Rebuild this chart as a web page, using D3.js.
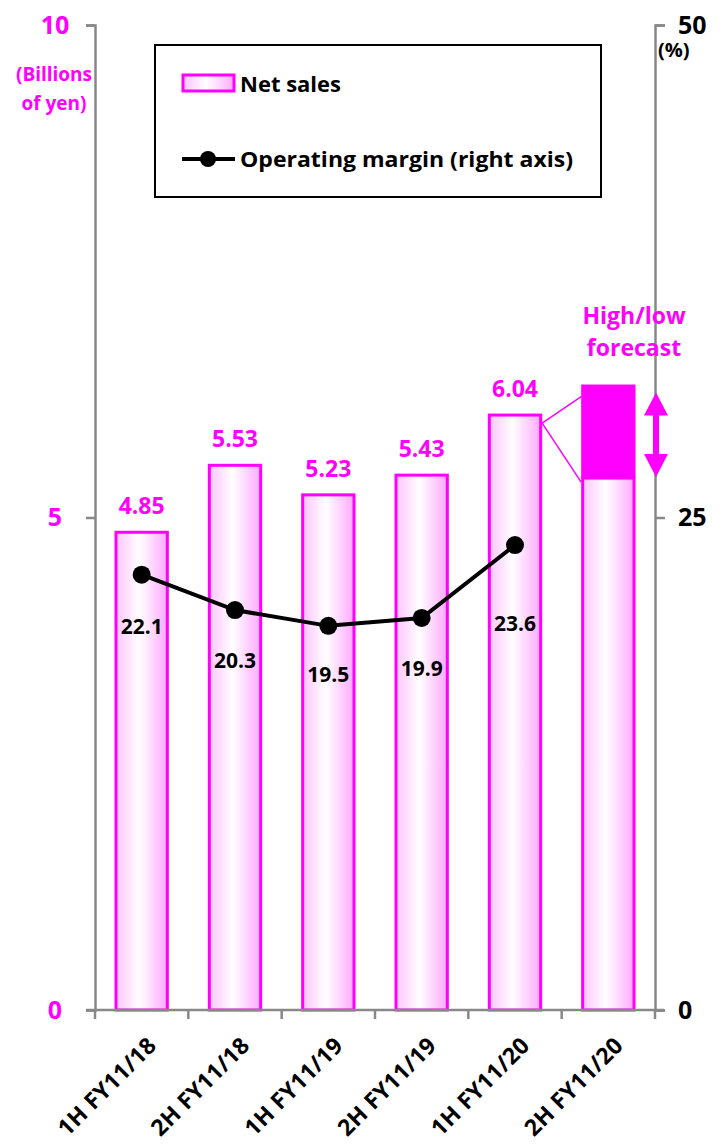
<!DOCTYPE html>
<html>
<head>
<meta charset="utf-8">
<script src="https://cdn.jsdelivr.net/npm/d3@7"></script>
<style>
  html, body { margin: 0; padding: 0; background: #fff; }
  svg { display: block; }
  svg text { font-family: "Open Sans", Lato, "DejaVu Sans", sans-serif; font-weight: 700; }
</style>
</head>
<body>
<svg id="chart" width="722" height="1147"></svg>
<script>
// Half-year periods
const categories = ["1H FY11/18", "2H FY11/18", "1H FY11/19", "2H FY11/19", "1H FY11/20", "2H FY11/20"];
// Net sales, billions of yen (last period is a forecast range)
const netSales = [4.85, 5.53, 5.23, 5.43, 6.04];
const forecastLow = 5.4;
const forecastHigh = 6.35;
// Operating margin, %
const opMargin = [22.1, 20.3, 19.5, 19.9, 23.6];
// Axis ticks
const leftTicks = [0, 5, 10];
const rightTicks = [0, 25, 50];

const MAGENTA = "#ff00ff";
const AXIS = "#888888";

const svg = d3.select("#chart");

const x = d3.scaleBand().domain(categories).range([95, 655]).paddingInner(0.45).paddingOuter(0.225);
const yL = d3.scaleLinear().domain([0, 10]).range([1010, 25]);
const yR = d3.scaleLinear().domain([0, 50]).range([1010, 25]);

// Bar fill: pink edges fading to white near the middle
const defs = svg.append("defs");
const grad = defs.append("linearGradient").attr("id", "barFill").attr("x1", "0").attr("x2", "1").attr("y1", "0").attr("y2", "0");
grad.append("stop").attr("offset", "0%").attr("stop-color", "#ffc4ff");
grad.append("stop").attr("offset", "45%").attr("stop-color", "#ffffff");
grad.append("stop").attr("offset", "100%").attr("stop-color", "#ffaaff");

// Bars
const bars = svg.append("g");
bars.selectAll("rect.sales")
  .data(netSales)
  .join("rect")
  .attr("class", "sales")
  .attr("x", (d, i) => x(categories[i]))
  .attr("y", d => yL(d))
  .attr("width", x.bandwidth())
  .attr("height", d => yL(0) - yL(d))
  .attr("fill", "url(#barFill)")
  .attr("stroke", MAGENTA)
  .attr("stroke-width", 3);

// Forecast bar: low estimate + high/low range
const fc = categories[5];
bars.append("rect")
  .attr("x", x(fc)).attr("y", yL(forecastLow))
  .attr("width", x.bandwidth()).attr("height", yL(0) - yL(forecastLow))
  .attr("fill", "url(#barFill)").attr("stroke", MAGENTA).attr("stroke-width", 3);
bars.append("rect")
  .attr("x", x(fc) - 1.5).attr("y", yL(forecastHigh))
  .attr("width", x.bandwidth() + 3).attr("height", yL(forecastLow) - yL(forecastHigh))
  .attr("fill", MAGENTA);

// Connector lines from the last actual bar to the forecast range
const lastX = x(categories[4]) + x.bandwidth() + 1.5;
const lastY = yL(netSales[4]) + 8;
bars.append("line")
  .attr("x1", lastX).attr("y1", lastY)
  .attr("x2", x(fc) - 1.5).attr("y2", yL(forecastHigh) + 12)
  .attr("stroke", MAGENTA).attr("stroke-width", 1.5);
bars.append("line")
  .attr("x1", lastX).attr("y1", lastY)
  .attr("x2", x(fc) - 1.5).attr("y2", yL(forecastLow) + 4)
  .attr("stroke", MAGENTA).attr("stroke-width", 1.5);

// Axes
const axisL = svg.append("g").attr("transform", "translate(95,0)")
  .call(d3.axisLeft(yL).tickValues(leftTicks).tickSize(9).tickPadding(19).tickFormat(d3.format("d")));
const axisR = svg.append("g").attr("transform", "translate(655,0)")
  .call(d3.axisRight(yR).tickValues(rightTicks).tickSize(10).tickPadding(19).tickFormat(d3.format("d")));
[axisL, axisR].forEach(g => {
  g.select(".domain").attr("stroke", AXIS).attr("stroke-width", 2.5);
  g.selectAll(".tick line").attr("stroke", AXIS).attr("stroke-width", 2.5);
  g.selectAll(".tick text").attr("font-size", 25).attr("font-weight", 700)
    .attr("font-family", "'Open Sans', sans-serif");
});
axisL.selectAll(".tick text").attr("fill", MAGENTA).attr("text-anchor", "middle").attr("dx", -12);
axisR.selectAll(".tick text").attr("fill", "#000").attr("text-anchor", "start").attr("dx", -6);

// Category axis with ticks at band boundaries
const axisB = svg.append("g");
axisB.append("line").attr("x1", 86).attr("x2", 664).attr("y1", 1010).attr("y2", 1010)
  .attr("stroke", AXIS).attr("stroke-width", 2.5);
const bounds = categories.map(c => x(c) - x.step() * x.paddingInner() / 2).concat([655]);
axisB.selectAll("line.tk").data(bounds).join("line").attr("class", "tk")
  .attr("x1", d => d).attr("x2", d => d).attr("y1", 1010).attr("y2", 1019)
  .attr("stroke", AXIS).attr("stroke-width", 2.5);
axisB.selectAll("text").data(categories).join("text")
  .attr("transform", d => `translate(${x(d) + x.bandwidth() / 2 + 16},1047) rotate(-45)`)
  .attr("text-anchor", "end")
  .attr("font-size", 23)
  .attr("letter-spacing", 0.2)
  .attr("fill", "#000")
  .text(d => d);

// Unit labels
const unitL = svg.append("text").attr("fill", MAGENTA).attr("font-size", 19).attr("text-anchor", "middle");
unitL.append("tspan").attr("x", 54).attr("y", 81).text("(Billions");
unitL.append("tspan").attr("x", 54).attr("y", 110).text("of yen)");
svg.append("text").attr("x", 658).attr("y", 57).attr("font-size", 20).attr("fill", "#000").text("(%)");

// Net sales value labels
svg.append("g").selectAll("text").data(netSales).join("text")
  .attr("x", (d, i) => x(categories[i]) + x.bandwidth() / 2)
  .attr("y", d => yL(d) - 18)
  .attr("text-anchor", "middle").attr("font-size", 23).attr("fill", MAGENTA)
  .text(d => d3.format(".2f")(d));

// Operating margin line
const cx = (d, i) => x(categories[i]) + x.bandwidth() / 2;
const line = d3.line().x((d, i) => cx(d, i)).y(d => yR(d));
svg.append("path").datum(opMargin).attr("d", line)
  .attr("fill", "none").attr("stroke", "#000").attr("stroke-width", 4);
svg.append("g").selectAll("circle").data(opMargin).join("circle")
  .attr("cx", cx).attr("cy", d => yR(d)).attr("r", 9).attr("fill", "#000");

// Margin labels sit below each point, clear of the line
const labelDrop = [59, 58, 56, 58, 86];
svg.append("g").selectAll("text").data(opMargin).join("text")
  .attr("x", cx)
  .attr("y", (d, i) => yR(d) + labelDrop[i])
  .attr("text-anchor", "middle").attr("font-size", 21).attr("fill", "#000")
  .text(d => d3.format(".1f")(d));

// Forecast annotation
const note = svg.append("text").attr("fill", MAGENTA).attr("font-size", 23).attr("text-anchor", "middle");
note.append("tspan").attr("x", 634).attr("y", 324).text("High/low");
note.append("tspan").attr("x", 634).attr("y", 356).text("forecast");

// Double-headed arrow beside the range
const ax = 656, aTop = yL(forecastHigh) + 8, aBot = yL(forecastLow) - 1, head = 23, hw = 12, sw = 3;
svg.append("path")
  .attr("d", `M${ax},${aTop} L${ax + hw},${aTop + head} L${ax + sw},${aTop + head} L${ax + sw},${aBot - head}
              L${ax + hw},${aBot - head} L${ax},${aBot} L${ax - hw},${aBot - head} L${ax - sw},${aBot - head}
              L${ax - sw},${aTop + head} L${ax - hw},${aTop + head} Z`)
  .attr("fill", MAGENTA);

// Legend
const lg = svg.append("g");
lg.append("rect").attr("x", 155).attr("y", 45).attr("width", 446).attr("height", 152)
  .attr("fill", "#fff").attr("stroke", "#000").attr("stroke-width", 2);
lg.append("rect").attr("x", 183).attr("y", 75).attr("width", 51).attr("height", 16)
  .attr("fill", "url(#barFill)").attr("stroke", MAGENTA).attr("stroke-width", 3);
lg.append("text").attr("x", 240).attr("y", 92).attr("font-size", 22).attr("fill", "#000").text("Net sales");
lg.append("line").attr("x1", 182).attr("x2", 235).attr("y1", 159).attr("y2", 159)
  .attr("stroke", "#000").attr("stroke-width", 4);
lg.append("circle").attr("cx", 208).attr("cy", 159).attr("r", 8).attr("fill", "#000");
lg.append("text").attr("x", 240).attr("y", 167).attr("font-size", 21).attr("fill", "#000")
  .attr("textLength", 333).attr("lengthAdjust", "spacingAndGlyphs")
  .text("Operating margin (right axis)");
</script>
</body>
</html>
